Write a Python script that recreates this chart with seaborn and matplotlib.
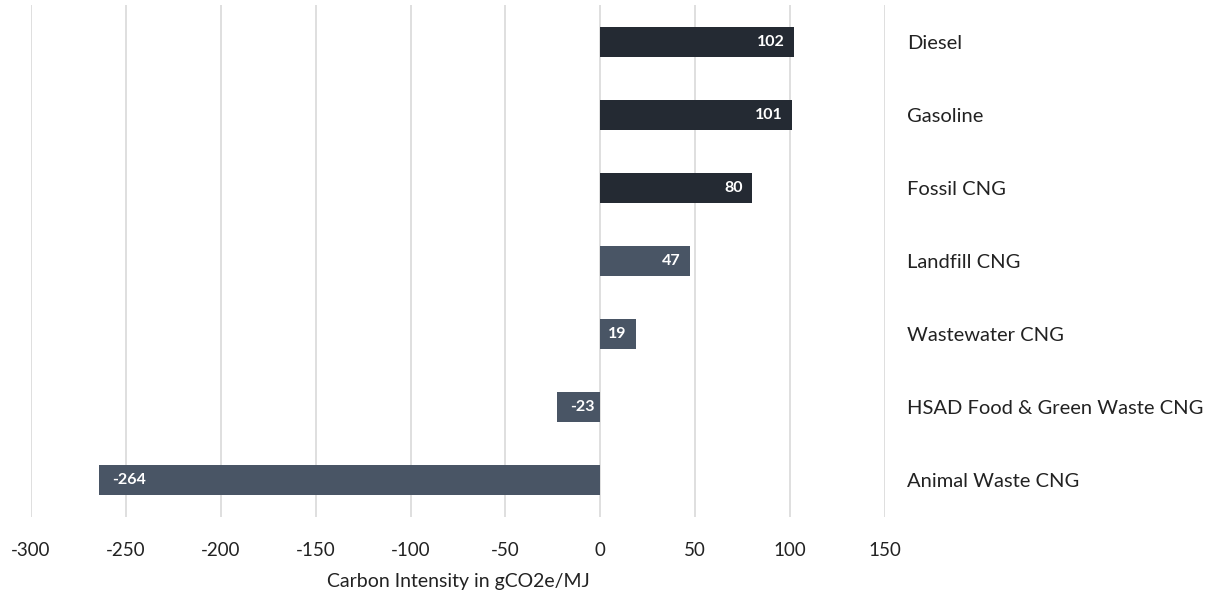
import matplotlib
matplotlib.use("Agg")
import matplotlib.pyplot as plt
import seaborn as sns
import pandas as pd

fuels = ["Diesel", "Gasoline", "Fossil CNG", "Landfill CNG", "Wastewater CNG",
         "HSAD Food & Green Waste CNG", "Animal Waste CNG"]
intensity = [102, 101, 80, 47, 19, -23, -264]
source = ["Fossil", "Fossil", "Fossil", "Renewable", "Renewable", "Renewable", "Renewable"]
x_ticks = [-300, -250, -200, -150, -100, -50, 0, 50, 100, 150]

colors = {"Fossil": "#222a35", "Renewable": "#44546a"}

sns.set_style("white")
plt.rcParams["font.family"] = ["Lato", "DejaVu Sans"]

df = pd.DataFrame({"fuel": fuels, "ci": intensity, "source": source})

fig = plt.figure(figsize=(12.1, 5.94), dpi=100)
ax = fig.add_axes([0.0256, 0.1296, 0.7058, 0.862])

sns.barplot(data=df, x="ci", y="fuel", hue="source", palette=colors,
            orient="h", width=0.41, dodge=False, legend=False, ax=ax,
            edgecolor="none")

ax.set_xlim(-300, 150)
ax.set_ylim(6.5, -0.5)
ax.set_xticks(x_ticks)
ax.set_xticklabels([str(t) for t in x_ticks], fontsize=13.5, color="#222222")
ax.grid(axis="x", color="#d9d9d9", linewidth=1.2)
ax.set_axisbelow(True)
for s in ax.spines.values():
    s.set_visible(False)

ax.yaxis.tick_right()
ax.tick_params(axis="y", length=0, pad=16, labelsize=14.5, labelcolor="#222222")
ax.tick_params(axis="x", length=0, pad=18)
ax.set_ylabel("")
ax.set_xlabel("Carbon Intensity in gCO2e/MJ", fontsize=14, color="#222222", labelpad=10)

for i, v in enumerate(intensity):
    if v >= 0:
        ax.text(v - 5, i, str(v), ha="right", va="center", color="white",
                fontsize=11.5, fontweight="bold")
    else:
        ax.text(v + 7, i, str(v), ha="left", va="center", color="white",
                fontsize=11.5, fontweight="bold")

fig.savefig("out.png", dpi=100)
